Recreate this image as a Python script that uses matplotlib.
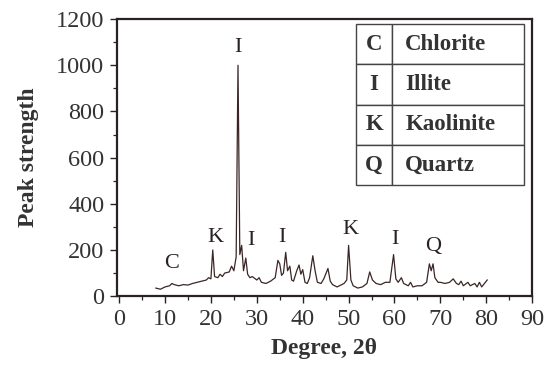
import matplotlib
matplotlib.use("Agg")
import matplotlib.pyplot as plt
from matplotlib.ticker import MultipleLocator

plt.rcParams['font.family'] = ['Liberation Serif', 'DejaVu Serif']

# XRD trace (2-theta, peak strength)
two_theta = [8.0, 9.0, 10.0, 11.0, 11.5, 12.0, 13.0, 14.0, 15.0, 16.0, 17.0, 18.0,
             19.0, 19.5, 20.0, 20.4, 20.8, 21.5, 22.0, 22.5, 23.0, 24.0, 24.5, 25.0,
             25.5, 25.9, 26.3, 26.7, 27.1, 27.6, 28.0, 28.5, 29.0, 30.0, 30.5, 31.0,
             32.0, 33.0, 34.0, 34.6, 35.0, 35.4, 35.8, 36.3, 36.7, 37.2, 37.6, 38.0,
             38.7, 39.2, 39.6, 40.0, 40.5, 41.0, 41.5, 42.2, 42.7, 43.2, 44.0, 44.6,
             45.5, 46.0, 46.5, 47.5, 48.0, 49.0, 49.6, 50.0, 50.5, 51.0, 52.0, 53.0,
             54.0, 54.6, 55.2, 56.0, 57.0, 58.0, 59.0, 59.8, 60.3, 60.8, 61.5, 62.0,
             62.5, 63.0, 63.5, 64.0, 65.0, 66.0, 67.0, 67.6, 68.0, 68.4, 68.8, 69.5,
             70.0, 71.0, 72.0, 72.8, 73.5, 74.0, 74.5, 75.0, 76.0, 76.5, 77.5, 78.0,
             78.5, 79.0, 79.6, 80.2]
strength = [35, 30, 40, 45, 55, 50, 45, 50, 48, 55, 60, 65,
            70, 80, 75, 200, 85, 80, 95, 85, 100, 105, 130, 110,
            170, 1000, 180, 220, 110, 165, 95, 80, 85, 70, 80, 60,
            55, 65, 80, 155, 140, 90, 100, 190, 110, 130, 70, 65,
            110, 135, 95, 115, 60, 55, 80, 175, 110, 60, 55, 75,
            120, 65, 50, 40, 45, 55, 70, 220, 70, 45, 35, 40,
            55, 105, 70, 55, 50, 60, 60, 180, 75, 60, 80, 55,
            50, 45, 60, 40, 45, 45, 60, 140, 110, 140, 80, 60,
            60, 55, 60, 75, 55, 50, 65, 45, 60, 45, 55, 40,
            60, 40, 55, 70]

# peak labels
label_text = ['C', 'K', 'I', 'I', 'I', 'K', 'I', 'Q']
label_x = [11.5, 21.0, 25.8, 28.8, 35.5, 50.3, 60.0, 68.4]
label_y = [140, 255, 1075, 240, 255, 290, 245, 215]

table_codes = ['C', 'I', 'K', 'Q']
table_names = ['Chlorite', 'Illite', 'Kaolinite', 'Quartz']

ink = '#2a2222'
fig = plt.figure(figsize=(5.59, 3.67), dpi=100)
ax = fig.add_axes([0.209, 0.193, 0.743, 0.755])

ax.plot(two_theta, strength, color='#3a2626', lw=0.9)

for t, x, y in zip(label_text, label_x, label_y):
    ax.text(x, y, t, ha='center', va='center', fontsize=16, color=ink)

ax.set_xlim(-0.5, 90)
ax.set_ylim(0, 1200)
ax.xaxis.set_major_locator(MultipleLocator(10))
ax.xaxis.set_minor_locator(MultipleLocator(5))
ax.yaxis.set_major_locator(MultipleLocator(200))
ax.yaxis.set_minor_locator(MultipleLocator(100))
ax.tick_params(which='major', length=5, width=1, color=ink, labelsize=17.5, labelcolor='#333333', pad=4)
ax.tick_params(which='minor', length=3, width=0.9, color=ink)
for s in ax.spines.values():
    s.set_linewidth(1.6)
    s.set_color(ink)

ax.set_xlabel('Degree, 2θ', fontsize=17, fontweight='bold', color='#333333', labelpad=6)
ax.set_ylabel('Peak strength', fontsize=17, fontweight='bold', color='#333333', labelpad=12)

rows = [[c, n] for c, n in zip(table_codes, table_names)]
tb = ax.table(cellText=rows, colWidths=[0.214, 0.786], cellLoc='left',
              bbox=[0.576, 0.40, 0.405, 0.582])
tb.auto_set_font_size(False)
for (r, c), cell in tb.get_celld().items():
    cell.set_edgecolor('#444444')
    cell.set_linewidth(1.0)
    cell.get_text().set_fontsize(16.5)
    cell.get_text().set_fontweight('bold')
    cell.get_text().set_color('#333333')
    if c == 0:
        cell.get_text().set_horizontalalignment('center')
        cell._loc = 'center'

fig.savefig('out.png', dpi=100)
